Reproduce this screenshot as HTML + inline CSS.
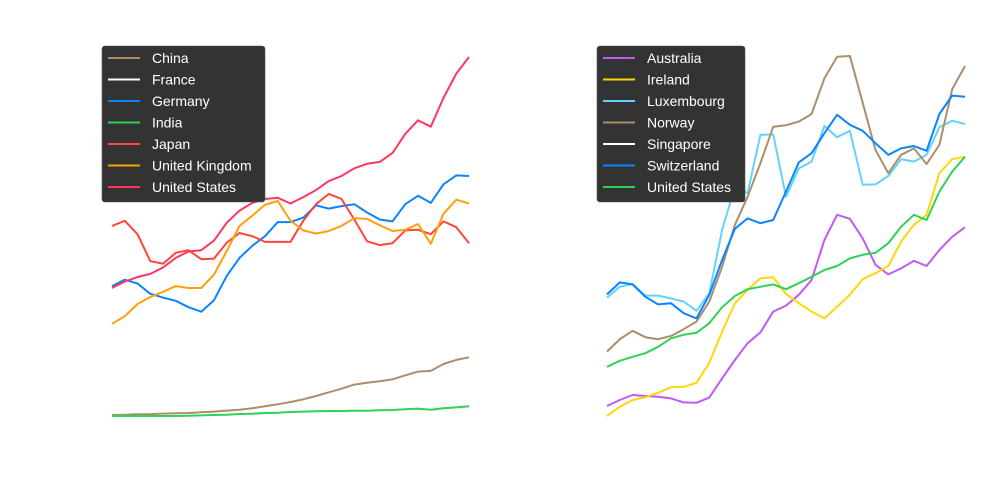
<!DOCTYPE html>
<html><head><meta charset="utf-8"><style>
body{margin:0;background:#fff;}
svg{display:block;font-family:"Liberation Sans",sans-serif;}
</style></head><body>
<svg id="chart" width="1000" height="500"></svg>
<script>
// ---- Left panel data ----
const leftCountries = ["China","France","Germany","India","Japan","United Kingdom","United States"];
const leftColors = ["#ac8e68","#ffffff","#0a84ff","#30d158","#ff453a","#ff9f0a","#ff375f"];
const chinaVals = [0.16,0.2,0.26,0.3,0.37,0.42,0.47,0.58,0.68,0.84,0.99,1.2,1.51,1.83,2.19,2.61,3.13,3.7,4.27,4.9,5.21,5.42,5.73,6.36,6.93,7.04,8.13,8.76,9.17];
const franceVals = [];
const germanyVals = [20.3,21.3,20.7,19.1,18.5,18.0,17.0,16.3,18.1,21.9,24.7,26.6,28.1,30.3,30.3,31.0,32.9,32.4,32.8,33.1,31.8,30.7,30.4,33.1,34.4,33.3,36.2,37.6,37.5];
const indiaVals = [0,0,0,0,0,0,0.05,0.1,0.16,0.21,0.31,0.36,0.47,0.52,0.63,0.68,0.73,0.78,0.78,0.83,0.83,0.89,0.94,1.04,1.15,0.99,1.2,1.35,1.51];
const japanVals = [29.7,30.5,28.4,24.2,23.8,25.5,25.9,24.5,24.6,27.1,28.6,28.1,27.2,27.2,27.2,30.5,33.1,34.7,33.9,30.7,27.3,26.7,27.0,29.0,29.1,28.4,30.4,29.5,27.0];
const ukVals = [14.4,15.6,17.5,18.6,19.4,20.3,20.0,20.0,22.1,25.8,29.7,31.3,33.0,33.6,30.5,29.0,28.5,28.9,29.7,30.9,30.8,29.8,28.9,29.1,30.0,26.9,31.6,33.8,33.2];
const usLeftVals = [20.0,21.0,21.7,22.2,23.2,24.7,25.7,25.9,27.4,30.2,32.1,33.3,33.9,34.1,33.2,34.2,35.3,36.7,37.5,38.7,39.4,39.7,41.1,44.1,46.2,45.2,49.7,53.5,56.1];
// ---- Right panel data ----
const rightCountries = ["Australia","Ireland","Luxembourg","Norway","Singapore","Switzerland","United States"];
const rightColors = ["#bf5af2","#ffd60a","#64d2ff","#ac8e68","#ffffff","#0a84ff","#30d158"];
const australiaVals = [2.5,4.0,5.25,5.0,4.8,4.4,3.4,3.3,4.6,9.4,14.0,18.2,20.9,26.1,27.6,30.3,34.0,44.0,50.3,49.3,44.4,37.8,35.4,36.9,38.8,37.5,41.5,44.8,47.2];
const irelandVals = [0,2.3,4.0,4.7,5.8,7.2,7.3,8.3,13.3,21.1,28.2,31.5,34.4,34.7,30.5,28.2,26.1,24.4,27.3,30.3,34.2,35.7,37.5,43.6,47.8,50.3,60.7,64.2,64.8];
const luxVals = [29.6,32.3,33.0,30.1,30.1,29.4,28.6,26.3,30.7,46.5,57.3,55.7,70.3,70.4,54.8,61.9,63.6,72.5,69.7,71.3,57.8,57.9,60.0,64.2,63.6,65.3,72.2,73.8,73.0];
const norwayVals = [16.1,19.2,21.3,19.7,19.2,20.0,21.7,23.6,28.6,37.3,47.8,54.8,63.2,72.3,72.7,73.6,75.5,84.4,89.8,90.0,78.3,66.5,60.7,65.3,66.9,63.0,67.8,81.7,87.5];
const singaporeVals = [];
const swissVals = [30.4,33.4,32.9,29.8,27.9,28.2,25.7,24.4,30.3,39.0,46.8,49.4,48.2,49.0,56.1,63.4,65.7,70.7,75.3,72.8,71.3,68.2,65.3,66.9,67.5,66.3,75.5,80.1,79.8];
const usRightVals = [12.3,13.8,14.8,15.7,17.3,19.4,20.3,20.8,23.2,27.2,30.0,31.7,32.3,32.9,31.7,33.2,34.8,36.5,37.5,39.4,40.3,40.8,43.2,47.3,50.3,49.0,56.1,61.1,64.8];
const years = [1987,1988,1989,1990,1991,1992,1993,1994,1995,1996,1997,1998,1999,2000,2001,2002,2003,2004,2005,2006,2007,2008,2009,2010,2011,2012,2013,2014,2015];

const NS="http://www.w3.org/2000/svg";
const svg=document.getElementById('chart');
function mk(t,a){const e=document.createElementNS(NS,t);for(const k in a)e.setAttribute(k,a[k]);return e;}

function panel(x0,x1,yBase,pxPerUnit,series,names,colors,lx,lw,tag){
  const g=mk('g',{});
  
  
  svg.appendChild(g);
  const xs=i=>x0+(x1-x0)*(i/(years.length-1));
  const ys=v=>yBase-v*pxPerUnit;
  series.forEach((vals,si)=>{
    if(!vals.length)return;
    const p=mk('polyline',{points:vals.map((v,i)=>xs(i).toFixed(1)+','+ys(v).toFixed(1)).join(' '),fill:'none',stroke:colors[si],'stroke-width':2,'stroke-linejoin':'round'});
    
    
    g.appendChild(p);
  });
  const lg=mk('g',{});
  
  
  g.appendChild(lg);
  lg.appendChild(mk('rect',{x:lx,y:46,width:lw,height:156,rx:3,fill:'#333333',stroke:'#555','stroke-width':0.6}));
  names.forEach((n,i)=>{
    const y=58+i*21.5;
    const it=mk('g',{});
    
    
    it.appendChild(mk('line',{x1:lx+6,x2:lx+38,y1:y,y2:y,stroke:colors[i],'stroke-width':2}));
    const t=mk('text',{x:lx+50,y:y+5,fill:'#ffffff','font-size':14});
    t.textContent=n;
    it.appendChild(t);
    lg.appendChild(it);
  });
}
panel(112,469,416,6.4,[chinaVals,franceVals,germanyVals,indiaVals,japanVals,ukVals,usLeftVals],leftCountries,leftColors,102,163,'left');
panel(607,965,416,4,[australiaVals,irelandVals,luxVals,norwayVals,singaporeVals,swissVals,usRightVals],rightCountries,rightColors,597,148,'right');
</script>
</body></html>
